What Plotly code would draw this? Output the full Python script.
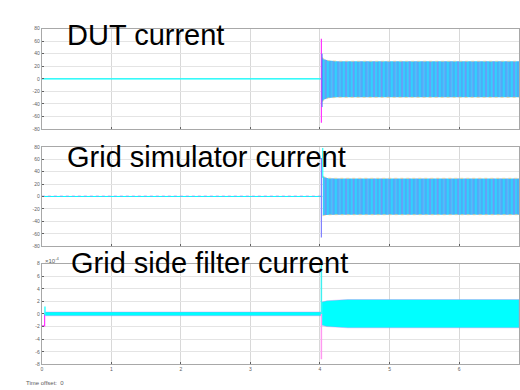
import plotly.graph_objects as go

# ---- values (time in s) ----
t_end = 6.862
t_switch = 4.02

# DUT current (A): flat before switching, envelope of the three-phase band after it
dut_env_t = [4.03, 4.06, 4.12, 4.25, 6.862]
dut_env_hi = [34.0, 31.0, 29.0, 28.0, 28.0]
dut_env_lo = [-37.0, -33.0, -30.5, -29.5, -29.5]
dut_spike = [64.0, -70.0]

# Grid simulator current (A)
gsim_env_t = [4.04, 4.07, 4.12, 4.25, 6.862]
gsim_env_hi = [33.0, 31.0, 29.5, 29.0, 29.0]
gsim_env_lo = [-31.0, -30.0, -29.5, -29.3, -29.3]
gsim_spike = [62.0, -66.0]
gsim_spike_hi = [78.0, 30.0]

# Grid side filter current (x1e-4 A)
gsf_start_t = [0.0, 0.04, 0.04]
gsf_start_v = [-1.9, -1.9, 0.0]
gsf_kick = [1.2, -0.2]
gsf_pre_t = [0.05, 4.02]
gsf_pre_hi = [0.32, 0.32]
gsf_pre_lo = [-0.28, -0.28]
gsf_env_t = [4.03, 4.1, 4.4, 6.862]
gsf_env_hi = [1.9, 2.1, 2.3, 2.3]
gsf_env_lo = [-1.8, -2.0, -2.2, -2.2]
gsf_spike_hi = [8.0, 0.0]
gsf_spike_lo = [0.0, -7.2]

titles = ["DUT current", "Grid simulator current", "Grid side filter current"]
amp_ticks = [80, 60, 40, 20, 0, -20, -40, -60, -80]
gsf_ticks = [8, 6, 4, 2, 0, -2, -4, -6, -8]
time_ticks = [0, 1, 2, 3, 4, 5, 6]

W, H = 520, 390
CYAN = "#00FFFF"
MAGENTA = "#FF33FF"
BAND_BLUE = "#4AAEF8"
FONT = "Liberation Sans, Arial, sans-serif"


def py(p):
    return 1 - p / H


def px(p):
    return p / W


fig = go.Figure()


def band(t, hi, lo, axis, striped=True, fill=BAND_BLUE):
    xs = list(t) + list(reversed(t))
    ys = list(hi) + list(reversed(lo))
    if striped:
        fig.add_trace(go.Scatter(
            x=xs, y=ys, xaxis="x" + axis, yaxis="y" + axis, mode="lines",
            line=dict(width=0), fill="toself", fillcolor=fill,
            fillpattern=dict(shape="|", fgcolor="#18F4FF", bgcolor=fill, size=4, solidity=0.5),
            hoverinfo="skip", showlegend=False))
        fig.add_trace(go.Scatter(
            x=xs, y=ys, xaxis="x" + axis, yaxis="y" + axis, mode="lines",
            line=dict(width=0), fill="toself", fillcolor="rgba(0,0,0,0)",
            fillpattern=dict(shape="|", fgcolor="rgba(225,90,240,0.5)", bgcolor="rgba(0,0,0,0)",
                             size=7, solidity=0.25),
            hoverinfo="skip", showlegend=False))
        # speckled edges where the phase peaks overlap
        for edge in (hi, lo):
            fig.add_trace(go.Scatter(
                x=list(t), y=list(edge), xaxis="x" + axis, yaxis="y" + axis, mode="lines",
                line=dict(width=1.2, color="rgba(240,200,120,0.55)", dash="dot"),
                hoverinfo="skip", showlegend=False))
    else:
        fig.add_trace(go.Scatter(
            x=xs, y=ys, xaxis="x" + axis, yaxis="y" + axis, mode="lines",
            line=dict(width=0.6, color="rgba(200,120,240,0.6)"), fill="toself", fillcolor=fill,
            hoverinfo="skip", showlegend=False))


def seg(x, y, axis, color, width=1.2, dash=None, opacity=1.0):
    fig.add_trace(go.Scatter(
        x=x, y=y, xaxis="x" + axis, yaxis="y" + axis, mode="lines",
        line=dict(color=color, width=width, dash=dash), opacity=opacity,
        hoverinfo="skip", showlegend=False))


# Panel 1: DUT current
seg([0, t_switch], [0, 0], "", CYAN, 1.2)
band(dut_env_t, dut_env_hi, dut_env_lo, "")
seg([t_switch, t_switch], dut_spike, "", MAGENTA, 1.2)
seg([t_switch + 0.01, t_switch + 0.01], [40, -45], "", "#4080FF", 1.0)

# Panel 2: Grid simulator current
seg([0, t_switch], [0, 0], "2", CYAN, 1.0)
seg([0, t_switch], [0.6, 0.6], "2", "#9A8CF0", 1.2, dash="dot", opacity=0.6)
band(gsim_env_t, gsim_env_hi, gsim_env_lo, "2")
seg([t_switch, t_switch], gsim_spike, "2", "#8080FF", 1.2)
seg([t_switch + 0.02, t_switch + 0.02], gsim_spike_hi, "2", CYAN, 1.0)

# Panel 3: Grid side filter current
seg(gsf_start_t, gsf_start_v, "3", MAGENTA, 1.2)
seg([0.045, 0.045], gsf_kick, "3", CYAN, 1.2)
band(gsf_pre_t, gsf_pre_hi, gsf_pre_lo, "3", striped=False, fill=CYAN)
band(gsf_env_t, gsf_env_hi, gsf_env_lo, "3", striped=False, fill=CYAN)
seg([t_switch, t_switch], gsf_spike_lo, "3", "#FF99F0", 1.5)
seg([t_switch, t_switch], gsf_spike_hi, "3", "#40F0F0", 1.5)

# Panel geometry (pixels from top)
panels = [(26, 128), (146, 247), (264.7, 367)]
x_dom = [px(41), 1.0]

axis_common = dict(
    showline=True, linecolor="#A8A8A8", linewidth=1.2, mirror=True,
    showgrid=True, gridcolor="#E4E4E4", gridwidth=1,
    zeroline=False, ticks="inside", ticklen=2, tickcolor="#606060",
    tickfont=dict(family=FONT, size=5, color="#606060"),
)

layout = dict(
    width=W, height=H, margin=dict(l=0, r=0, t=0, b=0),
    paper_bgcolor="white", plot_bgcolor="white", showlegend=False,
)
for i, (top, bot) in enumerate(panels):
    sfx = "" if i == 0 else str(i + 1)
    xa = dict(axis_common, domain=x_dom, range=[0, t_end], tickvals=time_ticks,
              anchor="y" + sfx, gridcolor="#D8D8D8")
    if i < 2:
        xa["showticklabels"] = False
        yvals = amp_ticks
        yr = [-80, 80]
    else:
        yvals = gsf_ticks
        yr = [-8, 8]
    if i > 0:
        xa["matches"] = "x"
    ya = dict(axis_common, domain=[py(bot), py(top)], range=yr, tickvals=yvals,
              ticktext=[str(v) for v in yvals], anchor="x" + sfx)
    layout["xaxis" + sfx] = xa
    layout["yaxis" + sfx] = ya

fig.update_layout(**layout)

title_pos = [(64, 32), (64, 156.5), (68, 264)]
for txt, (x0, yc) in zip(titles, title_pos):
    fig.add_annotation(text=txt, xref="paper", yref="paper", x=px(x0), y=py(yc),
                       xanchor="left", yanchor="middle", showarrow=False,
                       font=dict(family=FONT, size=29, color="black"))

small = dict(family=FONT, size=6, color="#606060")
fig.add_annotation(text="\u00d710<sup>-4</sup>", xref="paper", yref="paper", x=px(42), y=py(261),
                   xanchor="left", yanchor="middle", showarrow=False, font=small)
fig.add_annotation(text="Time offset:  0", xref="paper", yref="paper", x=px(23), y=py(386),
                   xanchor="left", yanchor="middle", showarrow=False, font=small)

fig.write_html("out.html")
